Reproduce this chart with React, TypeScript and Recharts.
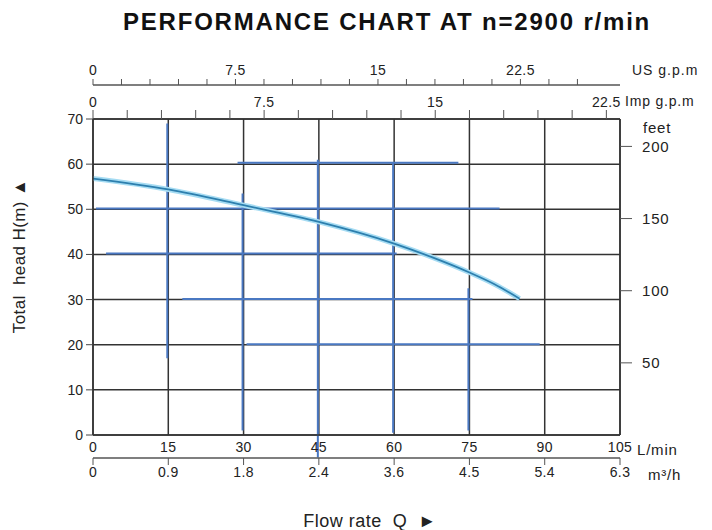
import { ComposedChart, Line, XAxis, YAxis, CartesianGrid, ReferenceLine } from "recharts"

// pump curve, flow in L/min vs total head in m
const flowLmin = [0, 15, 30, 45, 60, 67.5, 75, 80, 85]
const headM = [56.8, 54.4, 50.9, 47.2, 42.4, 39.4, 36.0, 33.4, 30.2]

const lminTicks = [0, 15, 30, 45, 60, 75, 90, 105]
const m3hTicks = [0, 0.9, 1.8, 2.7, 3.6, 4.5, 5.4, 6.3]
const m3hLabels = ["0", "0.9", "1.8", "2.4", "3.6", "4.5", "5.4", "6.3"]
const headTicks = [0, 10, 20, 30, 40, 50, 60, 70]
const feetTicks = [50, 100, 150, 200]
const usTicks = [0, 1.5, 3, 4.5, 6, 7.5, 9, 10.5, 12, 13.5, 15, 16.5, 18, 19.5, 21, 22.5, 24, 25.5]
const impTicks = [0, 1.5, 3, 4.5, 6, 7.5, 9, 10.5, 12, 13.5, 15, 16.5, 18, 19.5, 21, 22.5]
const gpmLabelled = [0, 7.5, 15, 22.5]

// blue traced-over grid pieces (L/min, m)
const blueVertical = [
  { q: 14.8, top: 69, bottom: 17 },
  { q: 29.8, top: 53.5, bottom: 1 },
  { q: 44.8, top: 61, bottom: -5 },
  { q: 59.8, top: 60.5, bottom: 0.5 },
  { q: 74.8, top: 32.5, bottom: 1 },
]
const blueHorizontal = [
  { h: 60.3, from: 28.8, to: 72.8 },
  { h: 50.2, from: 0.6, to: 81 },
  { h: 40.2, from: 2.6, to: 60.5 },
  { h: 30.1, from: 17.8, to: 75.6 },
  { h: 20.1, from: 30.6, to: 89 },
]

const data = flowLmin.map((q, i) => ({ q, h: headM[i] }))

const font = "'Liberation Sans', Arial, sans-serif"
const ink = "#222"
const tickStyle = { fill: ink, fontSize: 14, fontFamily: font, letterSpacing: 0.4 }
const lineStyle = { stroke: "#333", strokeWidth: 1.5 }
const gpmLabel = (v: number) => (gpmLabelled.some((g) => Math.abs(g - v) < 0.01) ? String(v) : "")

const Txt = ({ x, y, size = 14, children, style = {} }: any) => (
  <div
    style={{
      position: "absolute",
      left: x,
      top: y,
      transform: "translateY(-50%)",
      fontFamily: font,
      fontSize: size,
      color: ink,
      whiteSpace: "pre",
      ...style,
    }}>
    {children}
  </div>
)

export default function App() {
  return (
    <div style={{ position: "absolute", left: 0, top: 0, width: 712, height: 530, background: "#fff", overflow: "hidden" }}>
      <ComposedChart
        width={712}
        height={530}
        data={data}
        margin={{ top: 55, right: 52, bottom: 42, left: 53 }}>
        <CartesianGrid xAxisId="lmin" yAxisId="m" stroke="#333" strokeWidth={1.5} />
        <XAxis
          xAxisId="lmin"
          dataKey="q"
          type="number"
          domain={[0, 105]}
          allowDataOverflow
          ticks={lminTicks}
          interval={0}
          height={23}
          tickSize={0}
          tickMargin={7}
          tick={tickStyle}
          axisLine={lineStyle}
        />
        <XAxis
          xAxisId="m3h"
          dataKey="q"
          type="number"
          domain={[0, 6.3]}
          allowDataOverflow
          ticks={m3hTicks}
          interval={0}
          height={30}
          tickSize={7}
          tickMargin={2}
          tick={tickStyle}
          tickLine={{ stroke: "#555" }}
          axisLine={{ stroke: "#555", strokeWidth: 1.5 }}
          tickFormatter={(v: number, i: number) => m3hLabels[i]}
        />
        <XAxis
          xAxisId="imp"
          dataKey="q"
          orientation="top"
          type="number"
          domain={[0, 105 / 4.546]}
          allowDataOverflow
          ticks={impTicks}
          interval={0}
          height={34}
          tickSize={9}
          tickMargin={3}
          tick={tickStyle}
          tickLine={{ stroke: "#555" }}
          axisLine={lineStyle}
          tickFormatter={gpmLabel}
        />
        <XAxis
          xAxisId="us"
          dataKey="q"
          orientation="top"
          type="number"
          domain={[0, 105 / 3.785]}
          allowDataOverflow
          ticks={usTicks}
          interval={0}
          height={30}
          tickSize={6}
          tickMargin={4}
          tick={tickStyle}
          tickLine={{ stroke: "#555" }}
          axisLine={{ stroke: "#555", strokeWidth: 1.5 }}
          tickFormatter={gpmLabel}
        />
        <YAxis
          yAxisId="m"
          type="number"
          domain={[0, 70]}
          allowDataOverflow
          ticks={headTicks}
          interval={0}
          width={40}
          tickSize={7}
          tickMargin={3}
          tick={{ ...tickStyle, letterSpacing: 0 }}
          tickLine={{ stroke: "#444" }}
          axisLine={lineStyle}
        />
        <YAxis
          yAxisId="ft"
          orientation="right"
          type="number"
          domain={[0, 219]}
          allowDataOverflow
          ticks={feetTicks}
          interval={0}
          width={40}
          tickSize={12}
          tickMargin={10}
          tick={{ ...tickStyle, fontSize: 15, letterSpacing: 0.8 }}
          tickLine={{ stroke: "#555" }}
          axisLine={lineStyle}
        />
        {blueVertical.map((s, i) => (
          <ReferenceLine
            key={`v-${i}`}
            xAxisId="lmin"
            yAxisId="m"
            segment={[
              { x: s.q, y: s.top },
              { x: s.q, y: s.bottom },
            ]}
            stroke="#4a78c2"
            strokeWidth={2}
            ifOverflow="visible"
          />
        ))}
        {blueHorizontal.map((s, i) => (
          <ReferenceLine
            key={`h-${i}`}
            xAxisId="lmin"
            yAxisId="m"
            segment={[
              { x: s.from, y: s.h },
              { x: s.to, y: s.h },
            ]}
            stroke="#4a78c2"
            strokeWidth={2}
            ifOverflow="visible"
          />
        ))}
        <Line
          xAxisId="lmin"
          yAxisId="m"
          dataKey="h"
          type="monotone"
          stroke="#a6dcf3"
          strokeWidth={5}
          dot={false}
          isAnimationActive={false}
        />
        <Line
          xAxisId="lmin"
          yAxisId="m"
          dataKey="h"
          type="monotone"
          stroke="#2d7fae"
          strokeWidth={1.8}
          dot={false}
          isAnimationActive={false}
        />
      </ComposedChart>

      <Txt x={387} y={22} size={24} style={{ fontWeight: "bold", transform: "translate(-50%, -50%)", letterSpacing: 1.8, color: "#111" }}>
        PERFORMANCE CHART AT n=2900 r/min
      </Txt>
      <Txt x={632} y={70} style={{ letterSpacing: 1 }}>US g.p.m</Txt>
      <Txt x={625} y={101} style={{ letterSpacing: 0.8 }}>Imp g.p.m</Txt>
      <Txt x={643} y={127} size={15} style={{ letterSpacing: 0.8 }}>feet</Txt>
      <Txt x={637} y={449} size={15} style={{ letterSpacing: 0.8 }}>L/min</Txt>
      <Txt x={648} y={474} size={15} style={{ letterSpacing: 0.8 }}>m³/h</Txt>
      <Txt x={20} y={256} size={17} style={{ transform: "translate(-50%, -50%) rotate(-90deg)", letterSpacing: 0.4 }}>
        {"Total  head H(m) ▲"}
      </Txt>
      <Txt x={370} y={521} size={18} style={{ transform: "translate(-50%, -50%)", letterSpacing: 0.5 }}>
        {"Flow rate  Q  ►"}
      </Txt>
    </div>
  )
}
